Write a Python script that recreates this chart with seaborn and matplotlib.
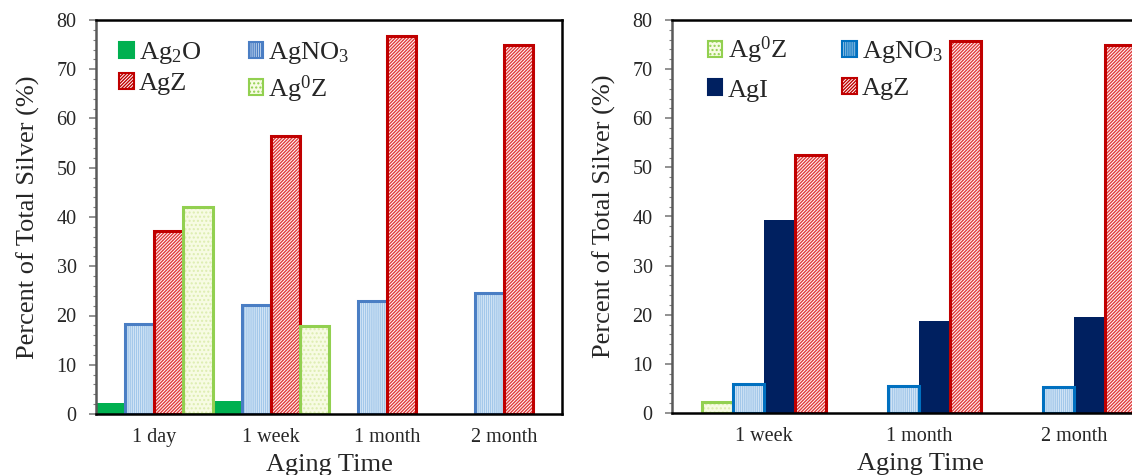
import numpy as np
import pandas as pd
import matplotlib
matplotlib.use("Agg")
import matplotlib.pyplot as plt
import seaborn as sns
from matplotlib.patches import Patch, Rectangle
from matplotlib.ticker import MultipleLocator
import matplotlib.colors as mcolors

# ---------------- data ----------------
left_times = ["1 day", "1 week", "1 month", "2 month"]
left_species = ["Ag2O", "AgNO3", "AgZ", "Ag0Z"]
left_ag2o = [2.3, 2.7, np.nan, np.nan]
left_agno3 = [18.2, 22.2, 22.9, 24.5]
left_agz = [37.1, 56.4, 76.8, 75.0]
left_ag0z = [42.1, 17.9, np.nan, np.nan]

right_times = ["1 week", "1 month", "2 month"]
right_species = ["Ag0Z", "AgNO3", "AgI", "AgZ"]
right_ag0z = [2.2, np.nan, np.nan]
right_agno3 = [6.0, 5.5, 5.2]
right_agi = [39.2, 18.7, 19.5]
right_agz = [52.6, 75.8, 75.0]

labels = {"Ag2O": "Ag$_2$O", "AgNO3": "AgNO$_3$", "AgZ": "AgZ", "Ag0Z": "Ag$^0$Z", "AgI": "AgI"}

# style: face, hatch, hatch colour, border colour
styles = {
    "Ag2O": dict(face="#00B050", hatch=None, hcol="#00B050", edge=None),
    "AgNO3": dict(face="#E4EFFA", hatch="||||||||", hcol="#A3C8EA", edge="#4A7EC4"),
    "AgZ": dict(face="#FFFFFF", hatch="//////////", hcol="#E03C3C", edge="#C00000"),
    "Ag0Z": dict(face="#F7FBE3", hatch="....", hcol="#DDEDB0", edge="#92D050"),
    "AgI": dict(face="#002060", hatch=None, hcol="#002060", edge=None),
}
right_edge_override = {"AgNO3": "#0070C0"}

sns.set_theme(style="white")
plt.rcParams["font.family"] = ["Liberation Serif", "DejaVu Serif"]
plt.rcParams["mathtext.fontset"] = "custom"
plt.rcParams["mathtext.rm"] = "Liberation Serif"
plt.rcParams["mathtext.it"] = "Liberation Serif:italic"
plt.rcParams["hatch.linewidth"] = 1.0

fig = plt.figure(figsize=(11.32, 4.75), dpi=100)
W, H = 1132, 475
ax1 = fig.add_axes([96 / W, 61 / H, 466 / W, 394 / H])
ax2 = fig.add_axes([672 / W, 62 / H, 496 / W, 393 / H])


def draw(ax, times, species, series, width, xlim, edge_over):
    rows = []
    for sp, vals in zip(species, series):
        for t, v in zip(times, vals):
            rows.append({"time": t, "species": sp, "value": v})
    df = pd.DataFrame(rows)
    pal = {sp: styles[sp]["face"] for sp in species}
    sns.barplot(data=df, x="time", y="value", hue="species", order=times,
                hue_order=species, palette=pal, width=width, saturation=1,
                legend=False, ax=ax, errorbar=None)
    face_lookup = {mcolors.to_hex(styles[sp]["face"]): sp for sp in species}
    for p in list(ax.patches):
        sp = face_lookup.get(mcolors.to_hex(p.get_facecolor()[:3]))
        if sp is None or p.get_height() == 0 or np.isnan(p.get_height()):
            continue
        st = styles[sp]
        edge = edge_over.get(sp, st["edge"])
        p.set_linewidth(0)
        if st["hatch"]:
            p.set_hatch(st["hatch"])
            p.set_edgecolor(st["hcol"])
        if edge:
            ax.add_patch(Rectangle(p.get_xy(), p.get_width(), p.get_height(),
                                   fill=False, edgecolor=edge, linewidth=2.2,
                                   zorder=p.get_zorder() + 0.1))
    ax.set_ylim(0, 80)
    ax.set_xlim(*xlim)
    ax.yaxis.set_major_locator(MultipleLocator(10))
    ax.yaxis.set_minor_locator(MultipleLocator(2))
    ax.tick_params(axis="y", which="major", direction="out", length=5, width=1.2,
                   color="#7F7F7F", labelsize=14.5, left=True, pad=9)
    ax.tick_params(axis="y", which="minor", direction="out", length=2.5, width=0.8,
                   color="#7F7F7F", left=True)
    ax.tick_params(axis="x", length=0, labelsize=14.5, pad=10)
    ax.set_xlabel("Aging Time", fontsize=19, labelpad=5)
    ax.set_ylabel("Percent of Total Silver (%)", fontsize=19, labelpad=12)
    for s in ["top", "right", "bottom"]:
        ax.spines[s].set_color("black")
        ax.spines[s].set_linewidth(1.8)
    ax.spines["left"].set_color("#595959")
    ax.spines["left"].set_linewidth(1.8)
    for s in ax.spines.values():
        s.set_visible(True)
        s.set_zorder(5)


draw(ax1, left_times, left_species, [left_ag2o, left_agno3, left_agz, left_ag0z],
     1.0, (-0.5, 3.5), {})
draw(ax2, right_times, right_species, [right_ag0z, right_agno3, right_agi, right_agz],
     0.8, (-0.594, 2.606), right_edge_override)


def handle(sp, edge_over):
    st = styles[sp]
    edge = edge_over.get(sp, st["edge"]) or st["face"]
    return Patch(facecolor=st["face"], edgecolor=edge, hatch=st["hatch"], linewidth=1.5,
                 label=labels[sp])


order1 = ["Ag2O", "AgZ", "AgNO3", "Ag0Z"]
ax1.legend(handles=[handle(s, {}) for s in order1], ncol=2, loc="upper left",
           bbox_to_anchor=(0.01, 0.995), frameon=False, fontsize=19,
           handlelength=0.55, handleheight=0.55, handletextpad=0.2,
           columnspacing=1.8, labelspacing=0.25, borderaxespad=0.3)
order2 = ["Ag0Z", "AgI", "AgNO3", "AgZ"]
ax2.legend(handles=[handle(s, right_edge_override) for s in order2], ncol=2,
           loc="upper left", bbox_to_anchor=(0.035, 1.01), frameon=False, fontsize=19,
           handlelength=0.55, handleheight=0.55, handletextpad=0.2,
           columnspacing=2.1, labelspacing=0.5, borderaxespad=0.3)

fig.savefig("out.png", dpi=100)
